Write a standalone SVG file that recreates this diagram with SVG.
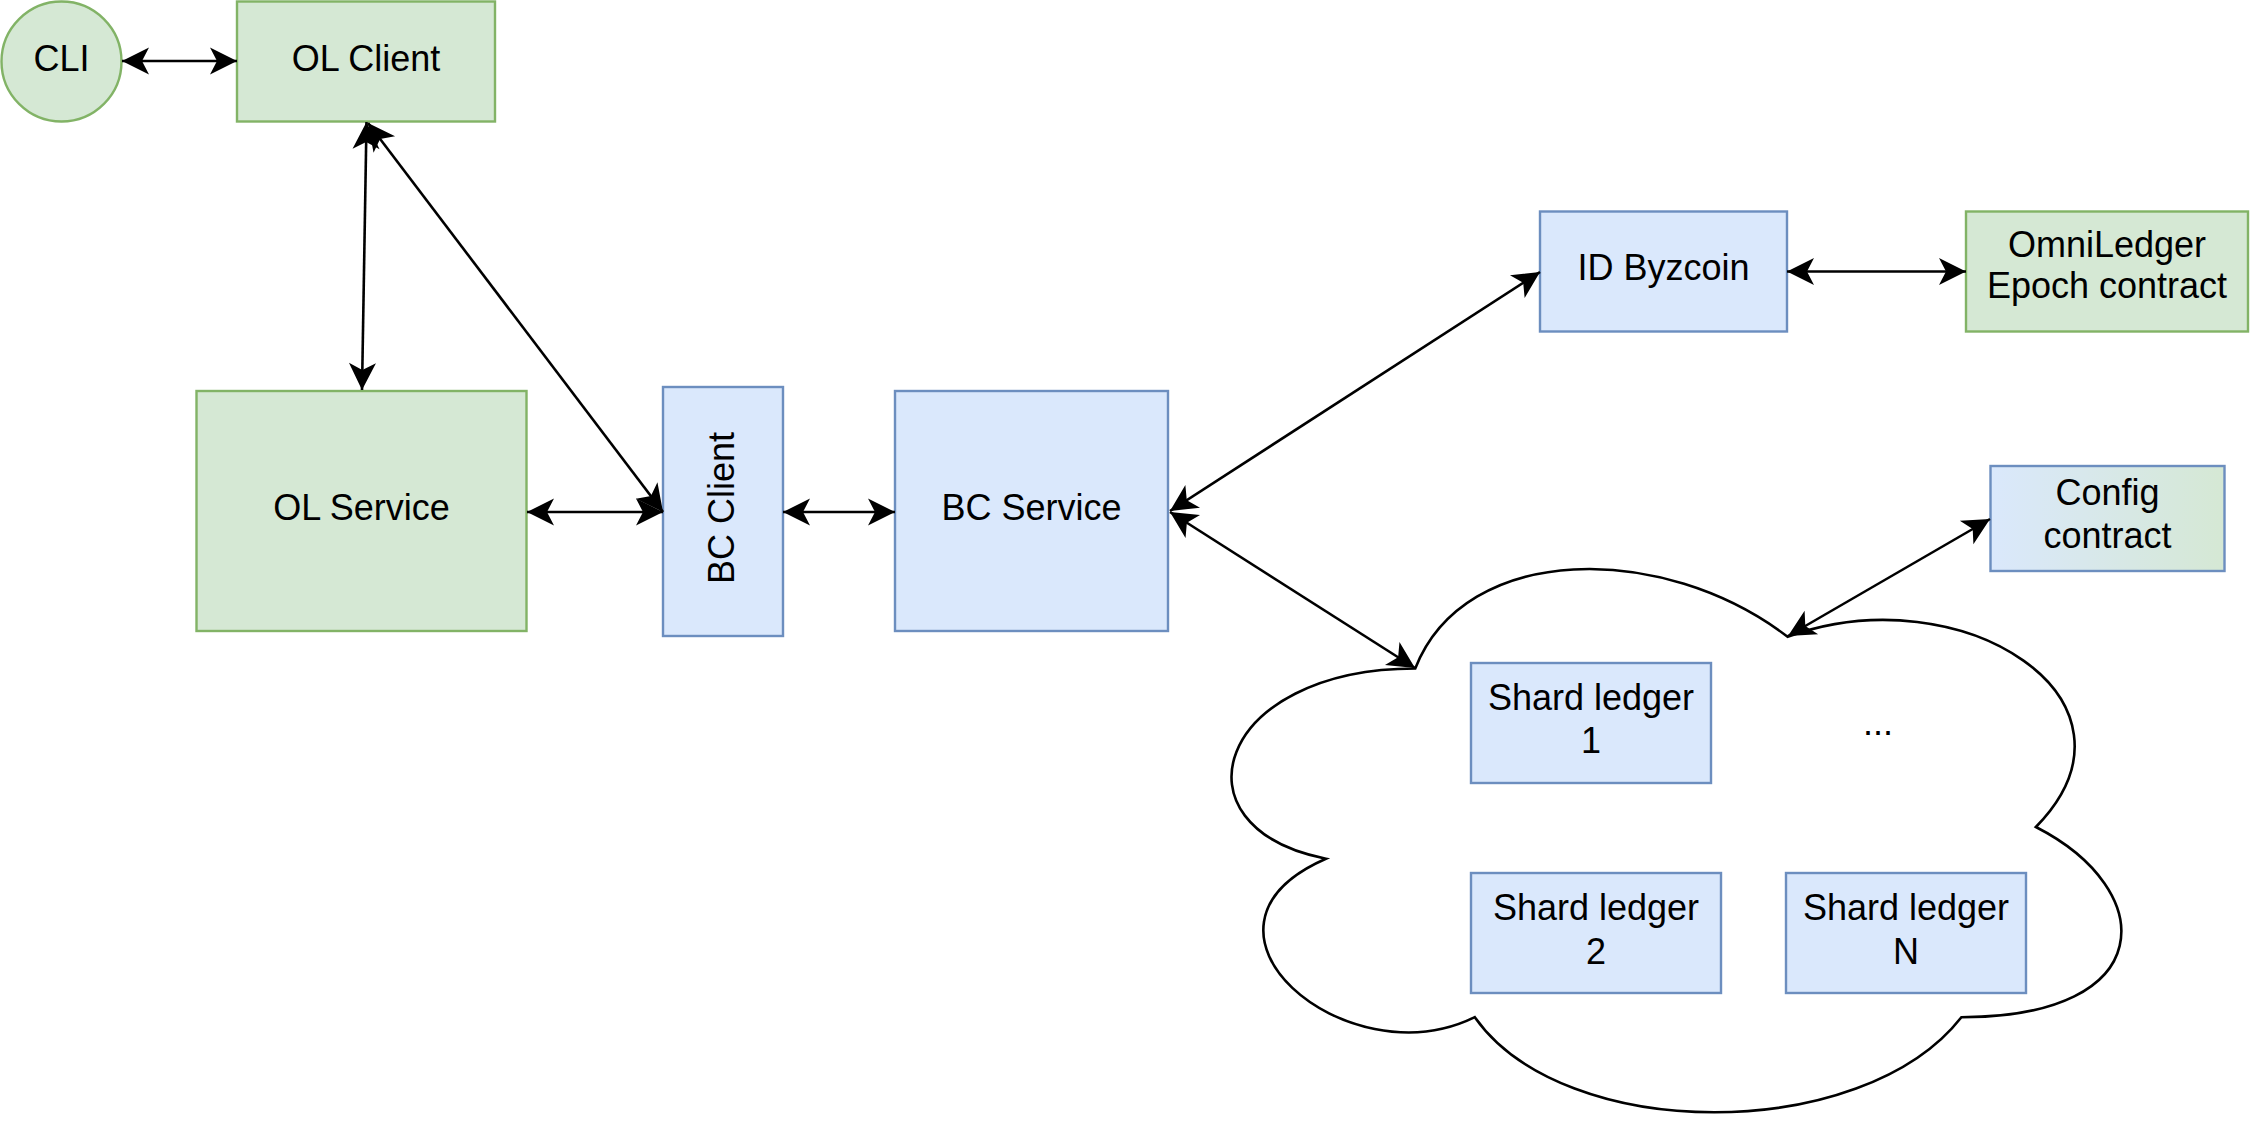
<svg xmlns="http://www.w3.org/2000/svg" width="2253" height="1143" viewBox="0 0 2253 1143">
  <defs>
    <marker id="arr" markerUnits="userSpaceOnUse" viewBox="-28 -15 30 30" markerWidth="30" markerHeight="30" refX="0" refY="0" orient="auto-start-reverse">
      <path d="M0,0 L-27,-13.5 L-20,0 L-27,13.5 Z" fill="#000"/>
    </marker>
    <linearGradient id="cfg" x1="0" y1="0" x2="1" y2="0">
      <stop offset="0" stop-color="#dae8fc"/>
      <stop offset="1" stop-color="#d5e8d4"/>
    </linearGradient>
    <style>
      .green { fill: #d5e8d4; stroke: #82b366; stroke-width: 2.4; }
      .blue { fill: #dae8fc; stroke: #6c8ebf; stroke-width: 2.4; }
      .lbl { font-family: "Liberation Sans", Arial, Helvetica, sans-serif; font-size: 36px; fill: #000; text-anchor: middle; }
      .conn { fill: none; stroke: #000; stroke-width: 2.6; marker-start: url(#arr); marker-end: url(#arr); }
      .cloud { fill: #fff; stroke: #000; stroke-width: 2.6; }
    </style>
  </defs>
  <rect width="2253" height="1143" fill="#fff"/>

  <g id="cloud">
    <path class="cloud" d="M1415.25,668.5 C1216.65,668.5 1167,827 1325.9,858.7 C1167,928.4 1345.7,1080.6 1474.8,1017.2 C1564.2,1144 1862.1,1144 1961.4,1017.2 C2160,1017.2 2160,890.4 2035.9,827 C2160,700.2 1961.4,573.4 1787.6,636.8 C1663.5,541.7 1464.9,541.7 1415.25,668.5 Z"/>
  </g>

  <g id="cli">
    <circle class="green" cx="61.5" cy="61.5" r="60"/>
    <text class="lbl" x="61.5" y="71">CLI</text>
  </g>
  <g id="ol-client">
    <rect class="green" x="237" y="1.5" width="258" height="120"/>
    <text class="lbl" x="366" y="71">OL Client</text>
  </g>
  <g id="ol-service">
    <rect class="green" x="196.5" y="391" width="330" height="240"/>
    <text class="lbl" x="361.5" y="520">OL Service</text>
  </g>
  <g id="bc-client">
    <rect class="blue" x="663" y="387" width="120" height="249"/>
    <text class="lbl" transform="translate(722,508) rotate(-90)" x="0" y="12">BC Client</text>
  </g>
  <g id="bc-service">
    <rect class="blue" x="895" y="391" width="273" height="240"/>
    <text class="lbl" x="1031.5" y="520">BC Service</text>
  </g>
  <g id="id-byzcoin">
    <rect class="blue" x="1540" y="211.5" width="247" height="120"/>
    <text class="lbl" x="1663.5" y="280">ID Byzcoin</text>
  </g>
  <g id="omniledger-epoch">
    <rect class="green" x="1966" y="211.5" width="282" height="120"/>
    <text class="lbl" x="2107" y="257">OmniLedger</text>
    <text class="lbl" x="2107" y="298">Epoch contract</text>
  </g>
  <g id="config-contract">
    <rect x="1990.5" y="466" width="234" height="105" fill="url(#cfg)" stroke="#6c8ebf" stroke-width="2.4"/>
    <text class="lbl" x="2107.5" y="505">Config</text>
    <text class="lbl" x="2107.5" y="548">contract</text>
  </g>
  <g id="shard-1">
    <rect class="blue" x="1471" y="663" width="240" height="120"/>
    <text class="lbl" x="1591" y="710">Shard ledger</text>
    <text class="lbl" x="1591" y="753">1</text>
  </g>
  <g id="dots">
    <text class="lbl" x="1878" y="735">...</text>
  </g>
  <g id="shard-2">
    <rect class="blue" x="1471" y="873" width="250" height="120"/>
    <text class="lbl" x="1596" y="920">Shard ledger</text>
    <text class="lbl" x="1596" y="964">2</text>
  </g>
  <g id="shard-n">
    <rect class="blue" x="1786" y="873" width="240" height="120"/>
    <text class="lbl" x="1906" y="920">Shard ledger</text>
    <text class="lbl" x="1906" y="964">N</text>
  </g>

  <g id="connectors">
    <line class="conn" x1="122" y1="61" x2="237" y2="61"/>
    <line class="conn" x1="366.5" y1="122" x2="362" y2="390"/>
    <line class="conn" x1="368" y1="123" x2="663" y2="512"/>
    <line class="conn" x1="527" y1="512" x2="663" y2="512"/>
    <line class="conn" x1="783" y1="512" x2="895" y2="512"/>
    <line class="conn" x1="1170" y1="511" x2="1540" y2="272"/>
    <line class="conn" x1="1787" y1="271.5" x2="1966" y2="271.5"/>
    <line class="conn" x1="1170" y1="512" x2="1415" y2="668"/>
    <line class="conn" x1="1990" y1="519" x2="1788" y2="636"/>
  </g>
</svg>
